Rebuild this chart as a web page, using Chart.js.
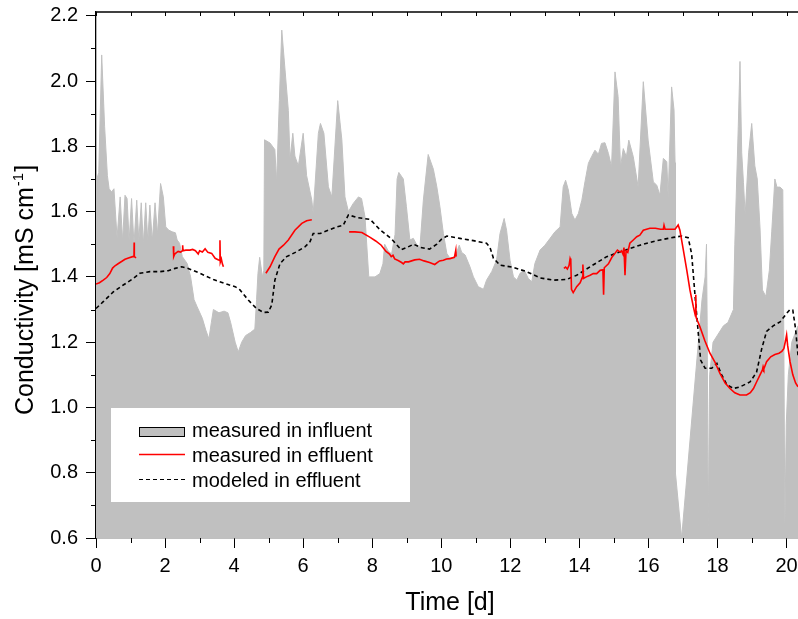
<!DOCTYPE html>
<html>
<head>
<meta charset="utf-8">
<script src="https://cdn.jsdelivr.net/npm/chart.js@4.4.1/dist/chart.umd.min.js"></script>
<style>
  html, body { margin: 0; padding: 0; background: #fff; }
</style>
</head>
<body>
<canvas id="conductivity" width="798" height="619"></canvas>
<script>
(function(){
    'use strict'

    // influent conductivity (grey area)
    var influentDays = [0.00,0.08,0.165,0.25,0.33,0.38,0.45,0.52,0.61,0.70,0.77,0.84,0.90,0.96,1.03,1.10,1.18,1.24,1.31,1.37,1.44,1.50,1.56,1.63,1.71,1.78,1.87,1.95,
        2.02,2.11,2.21,2.30,2.35,2.42,2.50,2.64,2.74,2.84,2.93,3.08,3.18,3.27,3.34,3.40,3.56,3.71,3.82,3.90,4.03,4.12,4.22,4.33,4.48,4.60,4.65,4.69,4.74,4.82,4.86,4.88,
        5.04,5.18,5.23,5.31,5.38,5.47,5.57,5.62,5.70,5.76,5.86,6.00,6.10,6.25,6.29,6.44,6.50,6.60,6.73,6.83,7.00,7.12,7.21,7.31,7.45,7.60,7.69,7.79,7.90,8.08,8.22,8.31,
        8.36,8.46,8.56,8.66,8.72,8.77,8.90,8.99,9.09,9.19,9.28,9.38,9.48,9.62,9.77,9.87,9.96,10.06,10.16,10.25,10.40,10.52,10.59,10.69,10.83,10.93,11.07,11.22,11.31,
        11.46,11.60,11.70,11.82,11.89,11.99,12.09,12.19,12.28,12.40,12.52,12.62,12.71,12.86,13.00,13.15,13.29,13.44,13.53,13.60,13.68,13.78,13.87,13.97,14.07,14.16,
        14.26,14.35,14.45,14.55,14.64,14.74,14.84,14.93,15.03,15.12,15.19,15.27,15.36,15.43,15.56,15.70,15.85,15.99,16.14,16.24,16.33,16.43,16.53,16.57,16.67,16.74,
        16.77,16.78,16.96,17.55,17.64,17.68,17.70,17.73,17.77,17.87,18.17,18.30,18.46,18.50,18.60,18.65,18.70,18.75,18.80,18.90,18.99,19.08,19.15,19.23,19.30,19.40,
        19.50,19.57,19.66,19.72,19.81,19.89,19.92,19.95,19.99,20.05,20.15,20.33];
    var influentValues = [1.69,1.72,2.08,1.86,1.71,1.67,1.66,1.67,1.52,1.645,1.51,1.65,1.64,1.51,1.64,1.50,1.635,1.51,1.627,1.50,1.627,1.51,1.62,1.51,1.627,1.53,1.686,1.645,
        1.553,1.543,1.538,1.535,1.513,1.503,1.462,1.441,1.40,1.33,1.308,1.273,1.237,1.21,1.26,1.30,1.29,1.295,1.29,1.26,1.20,1.17,1.20,1.22,1.23,1.24,1.33,1.41,1.46,1.40,1.42,1.82,
        1.81,1.79,1.69,1.94,2.156,2.04,1.91,1.76,1.84,1.77,1.74,1.84,1.71,1.635,1.594,1.84,1.87,1.84,1.676,1.645,1.94,1.82,1.645,1.60,1.625,1.645,1.64,1.584,1.40,1.40,1.41,1.44,
        1.50,1.48,1.47,1.53,1.70,1.72,1.70,1.615,1.513,1.518,1.50,1.49,1.635,1.775,1.73,1.676,1.615,1.533,1.472,1.457,1.462,1.497,1.475,1.467,1.431,1.40,1.37,1.362,1.39,
        1.416,1.451,1.533,1.579,1.543,1.451,1.40,1.39,1.411,1.421,1.395,1.385,1.441,1.482,1.497,1.518,1.538,1.553,1.676,1.696,1.666,1.594,1.574,1.594,1.635,1.691,
        1.748,1.768,1.788,1.776,1.809,1.811,1.778,1.737,2.028,1.952,1.737,1.793,1.768,1.819,1.768,1.676,1.998,1.819,1.691,1.681,1.650,1.763,1.753,1.645,1.982,1.911,
        1.75,0.80,0.60,1.33,1.40,1.50,1.25,0.63,1.10,1.20,1.25,1.26,1.30,1.50,1.86,2.06,1.78,1.69,1.59,1.78,1.87,1.74,1.70,1.55,1.36,1.34,
        1.42,1.54,1.70,1.675,1.675,1.667,1.20,0.63,0.95,1.10,1.20,1.25];

    // effluent conductivity (red), null = no measurement
    var effluentDays = [0.00,0.10,0.21,0.31,0.40,0.48,0.55,0.65,0.74,0.84,0.94,1.06,1.10,1.105,1.11,1.16,1.70,
        2.24,2.25,2.28,2.33,2.38,2.45,2.50,2.51,2.52,2.60,2.72,2.80,2.88,2.96,3.00,3.08,3.16,3.24,3.35,3.45,3.55,3.58,3.59,3.60,3.63,3.66,3.69,4.30,
        4.92,5.04,5.18,5.30,5.43,5.57,5.76,5.96,6.10,6.25,6.80,
        7.33,7.50,7.70,7.94,8.10,8.26,8.40,8.50,8.55,8.60,8.65,8.75,8.85,8.90,8.95,9.05,9.23,9.37,9.50,9.66,9.81,9.90,9.95,10.06,10.15,10.25,10.38,10.42,10.43,12.00,
        13.55,13.60,13.65,13.70,13.73,13.75,13.77,13.82,13.92,14.02,14.09,14.10,14.12,14.20,14.31,14.40,14.50,14.60,14.68,14.70,14.72,14.84,14.94,15.03,15.10,15.18,
        15.22,15.26,15.29,15.32,15.35,15.40,15.46,15.56,15.66,15.75,15.85,16.04,16.20,16.35,16.43,16.45,16.48,16.65,16.77,16.86,16.91,17.01,17.11,17.20,17.30,17.36,
        17.37,17.38,17.49,17.63,17.78,17.92,18.07,18.22,18.36,18.50,18.65,18.84,18.95,19.04,19.13,19.23,19.30,19.32,19.34,19.42,19.54,19.66,19.78,19.86,19.92,19.97,
        20.00,20.03,20.10,20.18,20.26,20.33];
    var effluentValues = [1.378,1.382,1.39,1.398,1.41,1.427,1.434,1.441,1.447,1.454,1.458,1.462,1.462,1.505,1.462,1.458,null,
        1.494,1.462,1.47,1.474,1.478,1.476,1.48,1.497,1.48,1.482,1.482,1.484,1.48,1.47,1.48,1.476,1.486,1.475,1.472,1.457,1.452,1.45,1.512,1.445,1.455,1.44,1.431,null,
        1.411,1.431,1.462,1.485,1.497,1.513,1.543,1.564,1.572,1.575,null,
        1.538,1.538,1.536,1.521,1.51,1.497,1.478,1.470,1.462,1.466,1.455,1.450,1.444,1.440,1.446,1.446,1.452,1.454,1.449,1.444,1.438,1.445,1.449,1.451,1.455,1.456,1.46,1.482,1.462,null,
        1.426,1.43,1.424,1.435,1.456,1.45,1.362,1.352,1.37,1.382,1.40,1.438,1.395,1.40,1.405,1.41,1.41,1.42,1.422,1.345,1.428,1.44,1.46,1.472,1.482,1.476,
        1.48,1.47,1.49,1.405,1.48,1.475,1.503,1.513,1.523,1.528,1.543,1.549,1.549,1.546,1.546,1.558,1.546,1.546,1.546,1.559,1.543,1.482,1.42,1.36,1.308,1.28,
        1.345,1.275,1.247,1.205,1.166,1.14,1.104,1.075,1.058,1.045,1.038,1.038,1.045,1.058,1.078,1.10,1.115,1.125,1.118,1.14,1.155,1.162,1.166,1.172,1.18,1.205,
        1.222,1.19,1.14,1.10,1.075,1.063];

    // modeled effluent conductivity (dashed)
    var modelDays = [0.00,0.21,0.50,0.79,1.08,1.27,1.56,1.85,2.09,2.29,2.48,2.67,3.01,3.40,3.78,4.03,4.17,4.41,4.65,4.85,4.99,5.09,5.18,5.33,5.52,5.81,6.05,6.20,6.29,
        6.49,6.73,6.97,7.16,7.31,7.55,7.94,8.22,8.56,8.84,9.00,9.20,9.40,9.66,9.87,10.00,10.16,10.54,10.93,11.31,11.41,11.51,11.70,12.09,12.47,12.86,13.24,13.63,13.92,
        14.31,14.79,15.27,15.75,16.24,16.72,16.96,17.15,17.25,17.35,17.44,17.51,17.64,17.83,17.98,18.12,18.27,18.46,18.65,18.94,19.13,19.28,19.42,19.61,19.81,20.00,
        20.10,20.18,20.26,20.33];
    var modelValues = [1.303,1.324,1.354,1.375,1.395,1.411,1.416,1.416,1.419,1.426,1.431,1.426,1.411,1.392,1.378,1.37,1.36,1.329,1.303,1.291,1.292,1.314,1.39,1.441,1.462,1.477,1.492,1.508,1.533,
        1.533,1.543,1.553,1.558,1.59,1.582,1.576,1.545,1.516,1.483,1.49,1.50,1.49,1.485,1.50,1.515,1.525,1.518,1.511,1.503,1.49,1.457,1.436,1.429,1.416,1.397,1.39,1.392,1.405,
        1.431,1.462,1.48,1.497,1.511,1.521,1.525,1.52,1.47,1.34,1.23,1.145,1.12,1.12,1.135,1.10,1.07,1.058,1.063,1.078,1.108,1.18,1.233,1.25,1.262,1.288,
        1.30,1.298,1.24,1.16];

    var xTicks = [0,2,4,6,8,10,12,14,16,18,20];
    var xMinorTicks = [1,3,5,7,9,11,13,15,17,19];
    var yTicks = [0.6,0.8,1.0,1.2,1.4,1.6,1.8,2.0,2.2];
    var yTickLabels = ['0.6','0.8','1.0','1.2','1.4','1.6','1.8','2.0','2.2'];
    var yMinorTicks = [0.7,0.9,1.1,1.3,1.5,1.7,1.9,2.1];
    var legendLabels = ['measured in influent','measured in effluent','modeled in effluent'];

    var FONT = '"Liberation Sans", Arial, Helvetica, sans-serif';
    Chart.defaults.font.family = FONT;
    Chart.defaults.font.size = 20;
    Chart.defaults.color = '#000';

    function points(days, values){
        return days.map(function(d, i){ return {x: d, y: values[i]}; });
    }

    // minor ticks, top axis, legend box and axis titles
    var extras = {
        id: 'extras',
        afterDraw: function(chart){
            var ctx = chart.ctx;
            var area = chart.chartArea;
            var xs = chart.scales.x;
            var ys = chart.scales.y;
            ctx.save();
            ctx.strokeStyle = '#000';
            ctx.lineWidth = 1;
            ctx.beginPath();
            xMinorTicks.forEach(function(v){
                var px = Math.round(xs.getPixelForValue(v)) + 0.5;
                ctx.moveTo(px, area.bottom);
                ctx.lineTo(px, area.bottom + 5);
            });
            yMinorTicks.forEach(function(v){
                var py = Math.round(ys.getPixelForValue(v)) + 0.5;
                ctx.moveTo(area.left - 5, py);
                ctx.lineTo(area.left, py);
            });
            xTicks.concat(xMinorTicks).forEach(function(v){
                var px = Math.round(xs.getPixelForValue(v)) + 0.5;
                ctx.moveTo(px, area.top);
                ctx.lineTo(px, area.top + 4);
            });
            ctx.stroke();
            ctx.lineWidth = 1.3;
            ctx.beginPath();
            ctx.moveTo(area.left, area.top);
            ctx.lineTo(area.right, area.top);
            ctx.stroke();

            // legend
            ctx.fillStyle = '#fff';
            ctx.fillRect(111, 408, 299, 94);
            ctx.fillStyle = '#c0c0c0';
            ctx.fillRect(139, 427, 46, 10);
            ctx.lineWidth = 1;
            ctx.strokeStyle = '#000';
            ctx.strokeRect(139.5, 427.5, 45, 9);
            ctx.strokeStyle = '#ff0000';
            ctx.lineWidth = 1.3;
            ctx.beginPath();
            ctx.moveTo(139, 454.5);
            ctx.lineTo(185, 454.5);
            ctx.stroke();
            ctx.strokeStyle = '#000';
            ctx.lineWidth = 1;
            ctx.setLineDash([4, 3]);
            ctx.beginPath();
            ctx.moveTo(139, 479.5);
            ctx.lineTo(185, 479.5);
            ctx.stroke();
            ctx.setLineDash([]);
            ctx.fillStyle = '#000';
            ctx.font = '20px ' + FONT;
            ctx.textAlign = 'left';
            ctx.textBaseline = 'alphabetic';
            legendLabels.forEach(function(t, i){
                ctx.fillText(t, 192, 436.7 + i * 25);
            });

            // axis titles
            ctx.font = '25px ' + FONT;
            ctx.textAlign = 'center';
            ctx.fillText('Time [d]', (area.left + area.right) / 2 + 3, 610);

            ctx.translate(33, 415);
            ctx.rotate(-Math.PI / 2);
            ctx.textAlign = 'left';
            var main = 'Conductivity [mS cm';
            ctx.fillText(main, 0, 0);
            var w = ctx.measureText(main).width;
            ctx.font = '15px ' + FONT;
            ctx.fillText('-1', w + 1, -10);
            var w2 = ctx.measureText('-1').width;
            ctx.font = '25px ' + FONT;
            ctx.fillText(']', w + w2 + 2, 0);
            ctx.restore();
        }
    };

    var axisGrid = { drawOnChartArea: false, drawTicks: true, tickLength: 10, color: '#000', lineWidth: 1 };
    var axisBorder = { display: true, color: '#000', width: 1.3 };

    new Chart(document.getElementById('conductivity'), {
        type: 'line',
        data: {
            datasets: [{
                label: legendLabels[1],
                data: points(effluentDays, effluentValues),
                borderColor: '#ff0000',
                borderWidth: 1.6,
                pointRadius: 0,
                spanGaps: false,
                fill: false,
                order: 0
            }, {
                label: legendLabels[2],
                data: points(modelDays, modelValues),
                borderColor: '#000',
                borderWidth: 1.6,
                borderDash: [4, 3],
                pointRadius: 0,
                fill: false,
                order: 1
            }, {
                label: legendLabels[0],
                data: points(influentDays, influentValues),
                borderColor: '#c0c0c0',
                borderWidth: 1,
                backgroundColor: '#c0c0c0',
                pointRadius: 0,
                fill: 'start',
                order: 2
            }]
        },
        options: {
            responsive: false,
            animation: false,
            devicePixelRatio: 1,
            layout: { padding: { top: 12, left: 0, right: 0, bottom: 0 } },
            plugins: { legend: { display: false }, tooltip: { enabled: false } },
            scales: {
                x: {
                    type: 'linear',
                    min: 0,
                    max: 20.33,
                    afterBuildTicks: function(s){ s.ticks = xTicks.map(function(v){ return {value: v}; }); },
                    afterFit: function(s){ s.height = 81; s.paddingLeft = 0; s.paddingRight = 0; },
                    ticks: { padding: 6, maxRotation: 0, autoSkip: false, callback: function(v){ return String(v); } },
                    grid: axisGrid,
                    border: axisBorder
                },
                y: {
                    type: 'linear',
                    min: 0.6,
                    max: 2.2115,
                    afterBuildTicks: function(s){ s.ticks = yTicks.map(function(v){ return {value: v}; }); },
                    afterFit: function(s){ s.width = 96; s.paddingTop = 0; s.paddingBottom = 0; },
                    ticks: { padding: 8, autoSkip: false, callback: function(v, i){ return yTickLabels[i]; } },
                    grid: axisGrid,
                    border: axisBorder
                }
            }
        },
        plugins: [extras]
    });
})();
</script>
</body>
</html>
